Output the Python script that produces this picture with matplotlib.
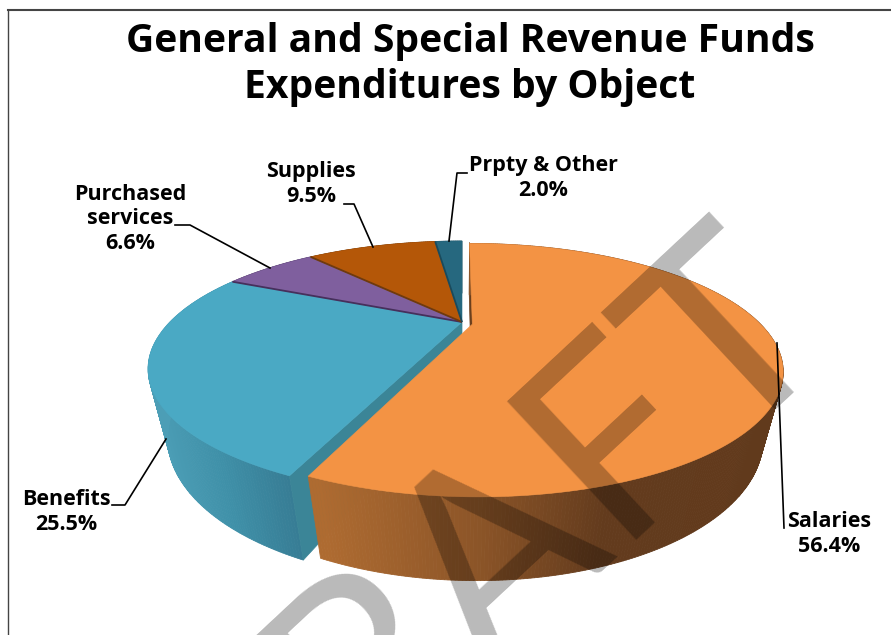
import numpy as np
import matplotlib
matplotlib.use('Agg')
import matplotlib.pyplot as plt
from matplotlib.colors import to_rgb

title_lines = ['General and Special Revenue Funds', 'Expenditures by Object']
categories = ['Salaries', 'Benefits', 'Purchased\nservices', 'Supplies', 'Prpty & Other']
shares = [56.4, 25.5, 6.6, 9.5, 2.0]

top_colors = ['#F39344', '#4AA9C4', '#7F5F9E', '#B45708', '#26687F']
edge_colors = ['#6B3F1C', '#3B8597', '#46305C', '#6E3A0E', '#1A4A5C']
rim_stops = {
    0: ([320, 480, 610, 790], ['#AE6B31', '#8C5528', '#633B1D', '#613A1C']),
    1: ([150, 220, 300], ['#4C9EB6', '#3F90A8', '#367A92']),
}

# perspective of the pie, in pixels of the 891x635 picture
CX, CY = 462, 322
SCALE_X, SCALE_Y = 292, 110.7
TILT = 0.367
SHRINK = 0.058
DEPTH = 69.6
ORANGE_DEPTH = 68
ORANGE_RADIUS = 0.98
EXPLODE = (0.035, -0.02)
FONT = 'Open Sans'


def project(u, v, z=0.0, depth=DEPTH):
    den = 1 + TILT * v + SHRINK * z
    return CX + SCALE_X * u / den, CY + (-SCALE_Y * v + depth * z) / den


def slice_points(start, end, offset=(0, 0), z=0.0, depth=DEPTH, radius=1.0):
    theta = np.radians(np.linspace(start, end, max(int(end - start) * 2, 4)))
    return project(offset[0] + radius * np.sin(theta), offset[1] + radius * np.cos(theta), z, depth)


def rim_color(i, x):
    xs, cols = rim_stops[i]
    rgb = np.array([to_rgb(c) for c in cols])
    return [np.interp(x, xs, rgb[:, k]) for k in range(3)]


def draw_rim(ax, i, start, end, offset, depth, radius=1.0, zorder=2):
    xt, yt = slice_points(start, end, offset, 0, depth, radius)
    xb, yb = slice_points(start, end, offset, 1, depth, radius)
    for k in range(len(xt) - 1):
        color = rim_color(i, xt[k]) if i in rim_stops else edge_colors[i]
        ax.fill([xt[k], xt[k + 1], xb[k + 1], xb[k]], [yt[k], yt[k + 1], yb[k + 1], yb[k]],
                color=color, lw=0.6, zorder=zorder)


def draw_top(ax, i, start, end, offset, radius=1.0, zorder=3):
    xs, ys = slice_points(start, end, offset, radius=radius)
    ax0, ay0 = project(offset[0], offset[1])
    ax.fill(np.r_[ax0, xs], np.r_[ay0, ys], color=top_colors[i], lw=0.4, zorder=zorder)


def draw_cut(ax, angle, offset, depth, color, zorder):
    t = np.radians(angle)
    u, v = offset[0] + np.sin(t), offset[1] + np.cos(t)
    p = [project(offset[0], offset[1], 0, depth), project(u, v, 0, depth),
         project(u, v, 1, depth), project(offset[0], offset[1], 1, depth)]
    ax.fill([q[0] for q in p], [q[1] for q in p], color=color, lw=0.5, zorder=zorder)


fig = plt.figure(figsize=(8.91, 6.35), dpi=100)
ax = fig.add_axes([0, 0, 1, 1])
ax.set_xlim(0, 891)
ax.set_ylim(635, 0)
ax.axis('off')

# chart frame, only the top and left edges are in the picture
ax.plot([8, 8], [640, 10], color='#444444', lw=1.0, zorder=1)
ax.plot([8, 895], [10, 10], color='#444444', lw=1.5, zorder=1)

angles = np.r_[0, np.cumsum(shares)] * 3.6 * 100 / sum(shares)

for i in range(1, len(shares)):
    draw_rim(ax, i, angles[i], angles[i + 1], (0, 0), DEPTH)
draw_cut(ax, angles[1], (0, 0), DEPTH, edge_colors[1], 2.5)
for i in range(1, len(shares)):
    draw_top(ax, i, angles[i], angles[i + 1], (0, 0))

# darker edge along the first side of the small slices
for i in range(2, len(shares)):
    t = np.radians(angles[i])
    x0, y0 = project(0, 0)
    x1, y1 = project(np.sin(t), np.cos(t))
    ax.plot([x0, x1], [y0, y1], color=edge_colors[i], lw=1.3, zorder=3.2, solid_capstyle='butt')

# the salaries slice is pulled out of the pie
draw_cut(ax, 0, EXPLODE, ORANGE_DEPTH, edge_colors[0], 3.4)
x0, y0 = project(*EXPLODE)
x1, y1 = project(EXPLODE[0], EXPLODE[1] + ORANGE_RADIUS)
ax.plot([x0 - 1, x1 - 1], [y0, y1], color='white', lw=2.2, zorder=3.3)
ax.plot([x0 - 0.5, x0 - 0.5], [y0 - 30, y0], color=edge_colors[0], lw=1.6, zorder=3.45)

draw_rim(ax, 0, angles[0], angles[1], EXPLODE, ORANGE_DEPTH, ORANGE_RADIUS, zorder=3.5)
draw_top(ax, 0, angles[0], angles[1], EXPLODE, ORANGE_RADIUS, zorder=3.6)

# leader lines
leaders = [
    ([777, 784], [343, 528]),
    ([112, 125, 166], [505, 505, 439]),
    ([175, 190, 270], [225, 225, 268]),
    ([344, 354, 373], [204, 204, 247]),
    ([449, 457, 467], [241, 173, 173]),
]
for lx, ly in leaders:
    ax.plot(lx, ly, color='black', lw=1.2, zorder=5)

label_pos = [(829, 534), (66, 512), (130, 219), (311, 184), (543, 178)]
for name, share, (lx, ly) in zip(categories, shares, label_pos):
    ax.text(lx, ly, f'{name}\n{share:.1f}%', ha='center', va='center', fontsize=15.5,
            fontweight='bold', family=FONT, linespacing=1.23, zorder=6)

for line, ly in zip(title_lines, [52, 98]):
    ax.text(470, ly, line, ha='center', va='baseline', fontsize=28.2, fontweight='bold',
            family=FONT, zorder=6)

ax.text(525, 620, 'DRAFT', rotation=43, rotation_mode='anchor', ha='center', va='baseline',
        fontsize=190, family='Lato', color='black', alpha=0.275, zorder=7)

fig.savefig('out.png', dpi=100)
